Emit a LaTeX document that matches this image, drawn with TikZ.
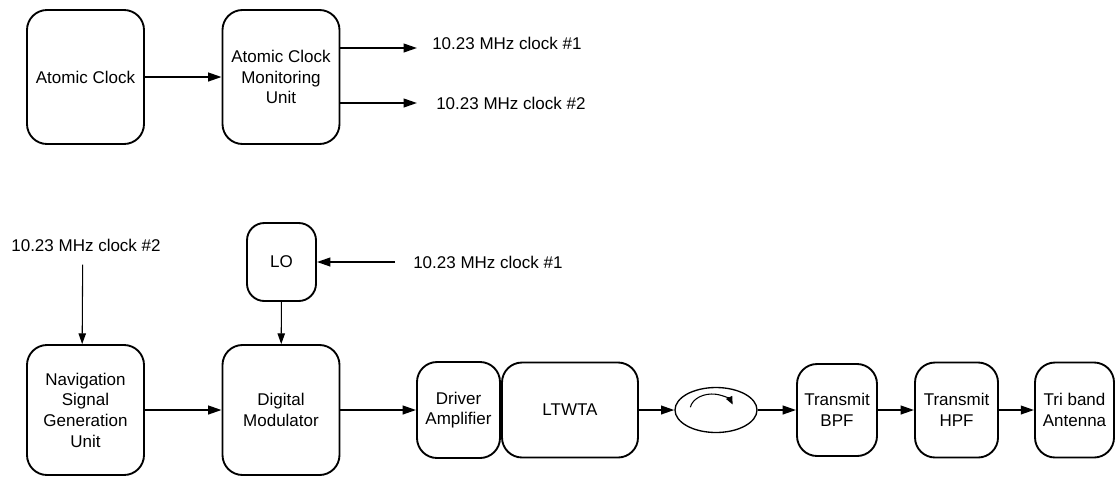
\documentclass[tikz,border=0pt]{standalone}
\usepackage{fontspec}
\setmainfont{Liberation Sans}
\usetikzlibrary{arrows.meta}
\usetikzlibrary{shapes.geometric}
\usetikzlibrary{positioning}

\begin{document}
\begin{tikzpicture}[x=0.75pt,y=-0.75pt,
		font=\fontsize{12.75}{15.5}\selectfont,
		blk/.style={draw, line width=1.4pt, rounded corners=15pt, align=center, inner sep=3pt},
		lbl/.style={inner sep=0pt, anchor=west},
		arr/.style={line width=1.4pt, -{Triangle[length=10pt,width=6.5pt]}},
		tarr/.style={line width=0.8pt, -{Triangle[length=8pt,width=5.5pt]}}]
	\useasboundingbox (0,0) rectangle (1116,476);
	% top row
	\node[blk, minimum width=87.75pt, minimum height=100.5pt] (ac) at (85.5,77) {Atomic Clock};
	\node[blk, minimum width=87.75pt, minimum height=100.5pt] (acmu) at (281,77) {Atomic Clock\\Monitoring\\Unit};
	\node[lbl] (out1) at (432,43) {10.23 MHz clock \#1};
	\node[lbl] (out2) at (436,103) {10.23 MHz clock \#2};
	\coordinate (o1) at (417,48);
	\coordinate (o2) at (417,103);
	\draw[arr] (ac) -- (acmu);
	\draw[arr] (acmu.east |- o1) -- (o1);
	\draw[arr] (acmu.east |- o2) -- (o2);
	% clock inputs
	\node[inner sep=0pt] (in2) at (86,245) {10.23 MHz clock \#2};
	\node[lbl] (in1) at (413,262) {10.23 MHz clock \#1};
	% bottom chain
	\node[blk, minimum width=87.75pt, minimum height=97.5pt] (nsgu) at (85.5,410) {Navigation\\Signal\\Generation\\Unit};
	\node[blk, rounded corners=13pt, minimum width=51.75pt, minimum height=58.5pt] (lo) at (281.5,262) {LO};
	\node[blk, minimum width=87.75pt, minimum height=97.5pt] (dm) at (281,410) {Digital\\Modulator};
	\node[blk, minimum width=62.25pt, minimum height=72pt] (drv) at (458.5,410) {Driver\\Amplifier};
	\node[blk, minimum width=102pt, minimum height=71.25pt] (ltwta) at (570,410) {LTWTA};
	\node[draw, ellipse, line width=1pt, minimum width=61.5pt, minimum height=33.75pt] (circ) at (716,410) {};
	\node[blk, minimum width=60pt, minimum height=69pt] (bpf) at (837,410) {Transmit\\BPF};
	\node[blk, minimum width=62.25pt, minimum height=71.25pt] (hpf) at (956.5,410) {Transmit\\HPF};
	\node[blk, minimum width=59.25pt, minimum height=71.25pt] (ant) at (1074.5,410) {Tri band\\Antenna};
	% connections
	\draw[tarr] ([xshift=-2.5pt]in2.south) ++(0,13) -- ([xshift=-2.5pt]nsgu.north);
	\draw[arr] ([xshift=-13.5pt]in1.west) -- (lo.east);
	\draw[tarr] (lo) -- (dm);
	\draw[arr] (nsgu) -- (dm);
	\draw[arr] (dm) -- (drv);
	\draw[arr] (ltwta) -- (circ);
	\draw[arr] (circ) -- (bpf);
	\draw[arr] (bpf) -- (hpf);
	\draw[arr] (hpf) -- (ant);
	% circulator arrow
	\draw[line width=0.8pt, -{Triangle[length=6pt,width=5pt]}] ([shift={(-3pt,0pt)}]circ.center) ++(170:16.5pt and 12pt) arc[start angle=170, end angle=20, x radius=16.5pt, y radius=12pt];
\end{tikzpicture}
\end{document}
